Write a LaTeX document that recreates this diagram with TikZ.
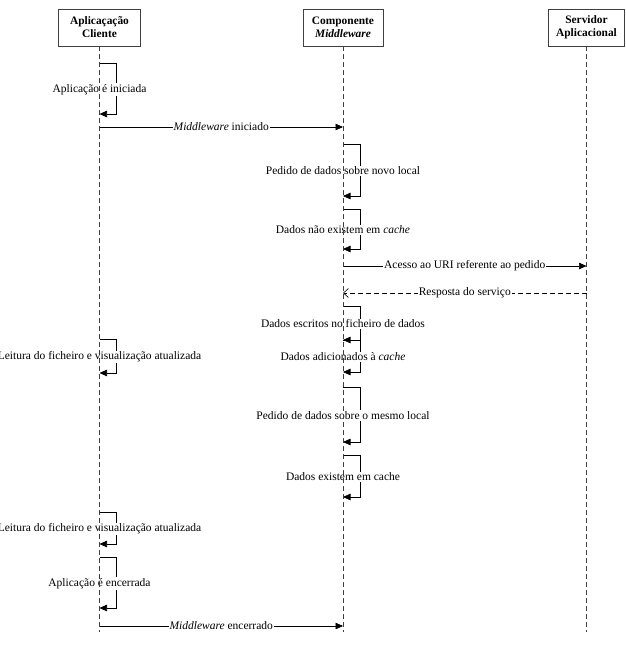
\documentclass[tikz,border=0pt]{standalone}
\usepackage{fontspec}
\setmainfont{Liberation Serif}
\usetikzlibrary{arrows.meta}
\newcommand\selfloop[5]{%
  \coordinate (#5a) at (#1,#2);
  \coordinate (#5b) at (#1+17,#2);
  \coordinate (#5c) at (#1+17,#3);
  \coordinate (#5d) at (#1,#3);
  \draw[msg] (#5a) -- (#5b) -- (#5c) -- (#5d);
  \node[lbl] (#5l) at (#1,{(#2+#3)/2+1}) {#4};}
\begin{document}
\begin{tikzpicture}[x=1pt,y=-1pt,
  head/.style={draw=black!75, line width=0.8pt, minimum height=37pt, inner sep=2pt,
    font=\fontsize{11.4}{13}\selectfont\bfseries, align=center},
  life/.style={draw=black!75, dash pattern=on 5pt off 3pt, line width=0.6pt},
  msg/.style={-{Triangle[length=7.5pt,width=6.5pt]}, line width=0.6pt},
  reply/.style={-{Straight Barb[length=5pt,width=9pt]}, dash pattern=on 5pt off 3pt, line width=0.6pt},
  lbl/.style={fill=white, inner sep=1pt, font=\fontsize{11.5}{13}\selectfont}]
\useasboundingbox[fill=white] (0,0) rectangle (625,648);

\node[head, minimum width=82pt] (cli) at (99.5,27.5) {Aplicaçação\\Cliente};
\node[head, minimum width=80pt] (mid) at (343,27.5) {Componente\\\textit{Middleware}};
\node[head, minimum width=76pt] (srv) at (586.5,27.5) {Servidor\\Aplicacional};

\coordinate (cliEnd) at (99.5,632);
\coordinate (midEnd) at (343,632);
\coordinate (srvEnd) at (586.5,632);

% self messages
\selfloop{99.5}{63}{114}{Aplicação é iniciada}{s1}
\selfloop{343}{144}{196}{Pedido de dados sobre novo local}{s2}
\selfloop{343}{209}{249}{Dados não existem em \textit{cache}}{s3}
\selfloop{343}{306}{340}{Dados escritos no ficheiro de dados}{s4}
\selfloop{99.5}{339}{373}{Leitura do ficheiro e visualização atualizada}{s5}
\selfloop{343}{340}{372}{Dados adicionados à \textit{cache}}{s6}
\selfloop{343}{387}{442}{Pedido de dados sobre o mesmo local}{s7}
\selfloop{343}{455}{497}{Dados existem em cache}{s8}
\selfloop{99.5}{512}{544}{Leitura do ficheiro e visualização atualizada}{s9}
\selfloop{99.5}{557}{608}{Aplicação é encerrada}{s10}

% messages between lifelines
\coordinate (m1s) at (99.5,127);  \coordinate (m1e) at (343,127);
\draw[msg] (m1s) -- node[lbl] (m1l) {\textit{Middleware} iniciado} (m1e);
\coordinate (m2s) at (343,266);   \coordinate (m2e) at (586.5,266);
\draw[msg] (m2s) -- node[lbl] (m2l) {Acesso ao URI referente ao pedido} (m2e);
\coordinate (m3s) at (586.5,293); \coordinate (m3e) at (343,293);
\draw[reply] (m3s) -- node[lbl] (m3l) {Resposta do serviço} (m3e);
\coordinate (m4s) at (99.5,626);  \coordinate (m4e) at (343,626);
\draw[msg] (m4s) -- node[lbl] (m4l) {\textit{Middleware} encerrado} (m4e);

% lifelines
\draw[life] (cli.south) -- (cliEnd);
\draw[life] (mid.south) -- (midEnd);
\draw[life] (srv.south) -- (srvEnd);
\end{tikzpicture}
\end{document}
